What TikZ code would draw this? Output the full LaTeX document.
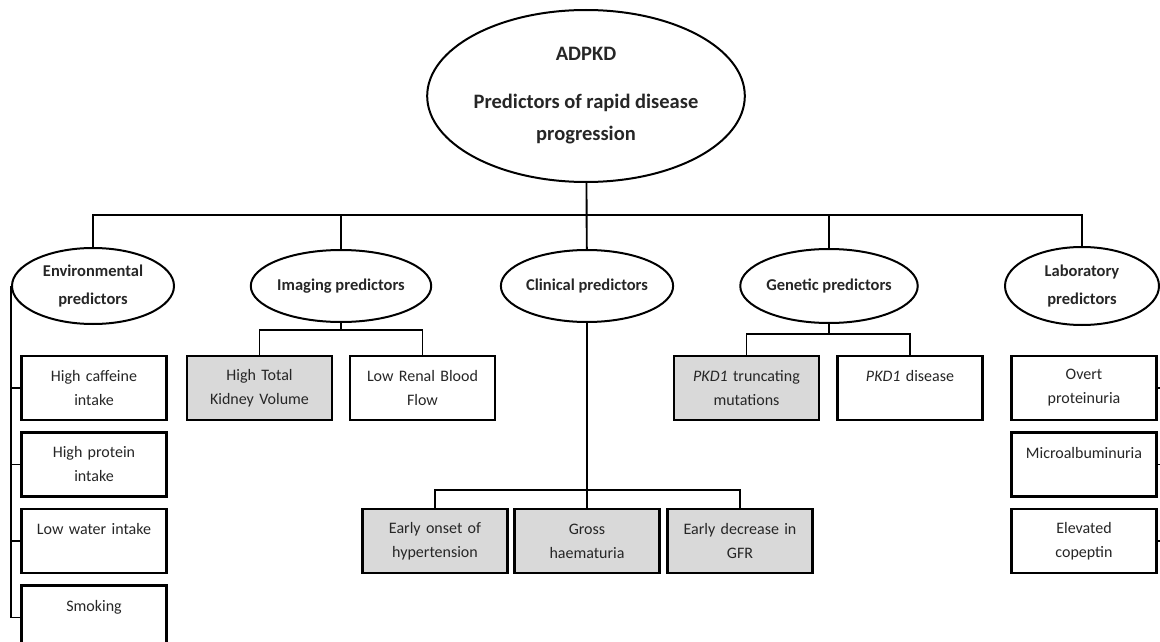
\documentclass[tikz,border=0pt]{standalone}
\usepackage{fontspec}
\setmainfont{Carlito}
\usetikzlibrary{shapes.geometric}

\begin{document}
\begin{tikzpicture}[x=1pt,y=-1pt]
    % Define block styles
    \tikzstyle{oval} = [ellipse, draw, line width=2pt, inner sep=0pt, align=center,
        text=black!85, font=\bfseries\fontsize{16.5}{28}\selectfont]
    \tikzstyle{block} = [rectangle, draw, line width=2.4pt, fill=white, inner sep=4pt,
        text width=137pt, align=center, minimum height=64pt, text=black!85,
        font=\fontsize{16}{24}\selectfont]
    \tikzstyle{shaded} = [block, fill=gray!30]
    \tikzstyle{line} = [draw, line width=1.9pt] % plain connector

    \path [use as bounding box, clip] (0,0) rectangle (1160,642);

    % Place nodes
    \node [oval, minimum width=308pt, minimum height=172pt,
        font=\bfseries\fontsize{20.5}{32}\selectfont] (adpkd) at (586,96)
        {ADPKD\\[16pt]Predictors of rapid disease\\progression};
    \node [oval, minimum width=166pt, minimum height=72pt] (clinical) at (587,286) {Clinical predictors};
    \node [oval, minimum width=162pt, minimum height=72pt, left of=clinical, node distance=246pt] (imaging) {Imaging predictors};
    \node [oval, minimum width=162pt, minimum height=76pt, left of=imaging, node distance=248pt] (environmental) {Environmental\\predictors};
    \node [oval, minimum width=162pt, minimum height=74pt, right of=clinical, node distance=242pt] (genetic) {Genetic predictors};
    \node [oval, minimum width=154pt, minimum height=78pt, right of=genetic, node distance=253pt] (laboratory) {Laboratory\\predictors};

    % Environmental column
    \node [block] (caffeine) at (94,388) {High caffeine\\intake};
    \node [block, below of=caffeine, node distance=76.5pt] (protein) {High protein\\intake};
    \node [block, below of=protein, node distance=76.5pt] (water) {Low water intake\\\mbox{}};
    \node [block, below of=water, node distance=76.5pt] (smoking) {Smoking\\\mbox{}};

    % Imaging
    \node [shaded] (kidney) at (259.5,388) {High Total\\Kidney Volume};
    \node [block, right of=kidney, node distance=163pt] (bloodflow) {Low Renal Blood\\Flow};

    % Clinical
    \node [shaded] (gross) at (587,541) {Gross\\haematuria};
    \node [shaded, left of=gross, node distance=152pt] (hypertension) {Early onset of\\hypertension};
    \node [shaded, right of=gross, node distance=153pt] (gfr) {Early decrease in\\GFR};

    % Genetic
    \node [shaded] (truncating) at (746.5,388) {\textit{PKD1} truncating\\mutations};
    \node [block, right of=truncating, node distance=163.5pt] (pkdisease) {\textit{PKD1} disease\\\mbox{}};

    % Laboratory column
    \node [block] (proteinuria) at (1084,388) {Overt\\proteinuria};
    \node [block, below of=proteinuria, node distance=76.5pt] (microalb) {Microalbuminuria\\\mbox{}};
    \node [block, below of=microalb, node distance=76.5pt] (copeptin) {Elevated\\copeptin};

    % Bus coordinates
    \coordinate (bus) at (587,215);
    \coordinate [below of=imaging, node distance=44pt] (imgbus);
    \coordinate [below of=genetic, node distance=48pt] (genbus);
    \coordinate [below of=clinical, node distance=204pt] (clinbus);
    \coordinate (labrail) at ([xshift=6pt]laboratory.east);

    % Draw connectors
    \path [line] (adpkd) -- (clinical);
    \path [line] (environmental.north) |- (bus) -| (laboratory.north);
    \path [line] (imaging.north) -- (imaging.north |- bus);
    \path [line] (genetic.north) -- (genetic.north |- bus);

    \path [line] (imaging) -- (imgbus);
    \path [line] (kidney.north) |- (imgbus) -| (bloodflow.north);
    \path [line] (genetic) -- (genbus);
    \path [line] (truncating.north) |- (genbus) -| (pkdisease.north);
    \path [line] (clinical) -- (gross.north);
    \path [line] (hypertension.north) |- (clinbus) -| (gfr.north);

    \path [line] (environmental.west) |- (smoking.west);
    \foreach \b in {caffeine, protein, water}
        \path [line] (environmental.west |- \b.west) -- (\b.west);

    \path [line] (laboratory.east) -- (labrail) |- (copeptin.east);
    \foreach \b in {proteinuria, microalb}
        \path [line] (labrail |- \b.east) -- (\b.east);
\end{tikzpicture}
\end{document}
